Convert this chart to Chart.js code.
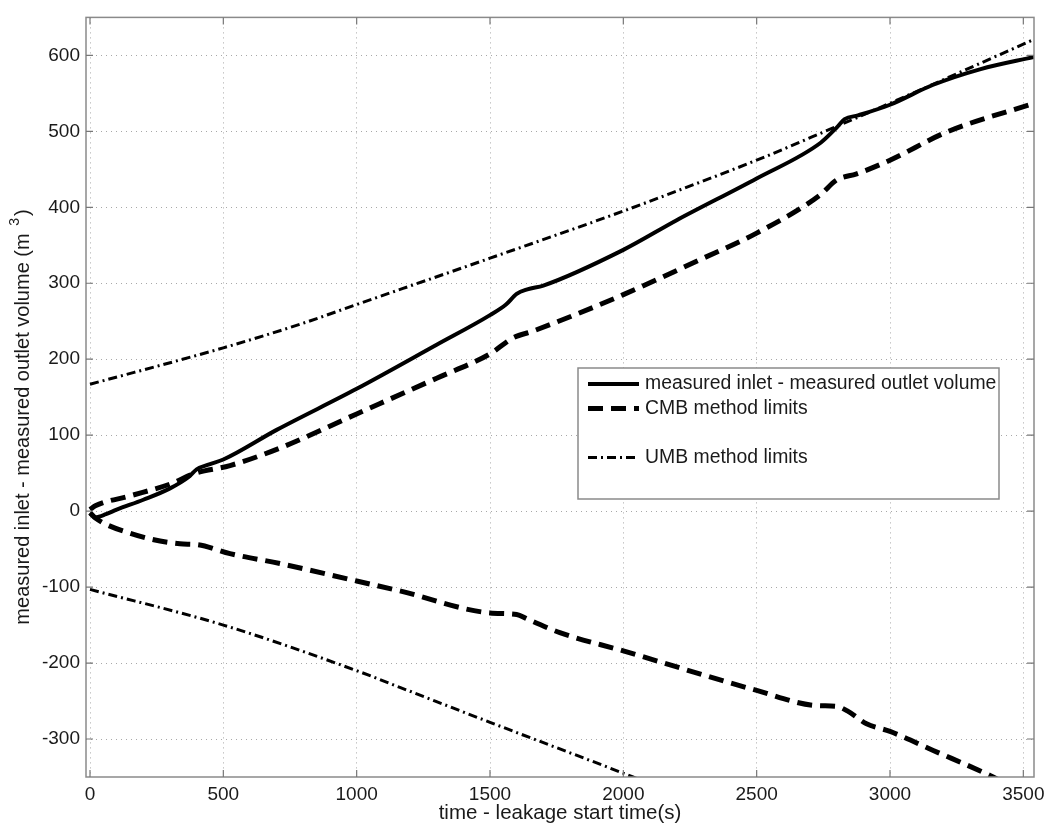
<!DOCTYPE html>
<html lang="en">
<head>
<meta charset="UTF-8">
<title>Leakage volume vs time</title>
<script src="https://cdn.jsdelivr.net/npm/chart.js"></script>
<style>
  html, body { margin: 0; padding: 0; background: #fff; }
  #wrap { width: 1044px; height: 823px; }
</style>
</head>
<body>
<div id="wrap"><canvas id="chart" width="1044" height="823"></canvas></div>
<script>
// values (time in s, volume in m3)
const measuredT = [0, 20, 60, 100, 200, 300, 370, 400, 450, 500, 700, 1000, 1300, 1500, 1560, 1600, 1640, 1700, 2000, 2200, 2500, 2740, 2800, 2830, 2880, 3000, 3160, 3340, 3540];
const measuredV = [-3, -8, -4, 2, 15, 30, 45, 55, 62, 68, 107, 161, 219, 258, 272, 286, 292, 297, 344, 383, 438, 485, 505, 516, 521, 535, 561, 582, 598];

const cmbUpperT = [0, 20, 150, 311, 386, 525, 712, 1000, 1300, 1500, 1586, 1661, 2000, 2287, 2500, 2737, 2800, 2875, 3000, 3212, 3540];
const cmbUpperV = [2, 7, 20, 37, 49, 60, 83, 128, 175, 207, 228, 237, 285, 331, 366, 416, 436, 444, 462, 499, 537];

const cmbLowerT = [0, 20, 150, 337, 400, 525, 712, 1000, 1162, 1500, 1600, 1640, 1762, 2000, 2500, 2725, 2800, 2840, 2912, 3000, 3162, 3375, 3420];
const cmbLowerV = [-2, -9, -29, -43, -44, -56, -69, -92, -105, -134, -136, -142, -160, -184, -236, -256, -257, -263, -280, -290, -315, -348, -356];

const umbUpperT = [0, 500, 787, 1000, 1500, 2000, 2212, 2500, 2750, 3000, 3540];
const umbUpperV = [167, 215, 246, 272, 333, 395, 423, 462, 499, 537, 621];

const umbLowerT = [0, 500, 1000, 1162, 1500, 2036, 2100];
const umbLowerV = [-103, -150, -210, -232, -278, -350, -359];

const xTicks = [0, 500, 1000, 1500, 2000, 2500, 3000, 3500];
const yTicks = [-300, -200, -100, 0, 100, 200, 300, 400, 500, 600];

const FONT = "'Liberation Sans', Arial, sans-serif";

function pts(t, v) { return t.map((x, i) => ({ x: x, y: v[i] })); }

function series(label, t, v, width, dash) {
  return {
    label: label,
    data: pts(t, v),
    borderColor: '#000',
    borderWidth: width,
    borderDash: dash,
    pointRadius: 0,
    fill: false,
    cubicInterpolationMode: 'monotone'
  };
}

// frame, inward tick marks, axis titles, legend box
const decor = {
  id: 'decor',
  afterDatasetsDraw(chart) {
    const ctx = chart.ctx, a = chart.chartArea;
    const xs = chart.scales.x, ys = chart.scales.y;
    ctx.save();
    ctx.strokeStyle = '#8a8a8a';
    ctx.lineWidth = 1.5;
    ctx.setLineDash([]);
    ctx.strokeRect(a.left, a.top, a.right - a.left, a.bottom - a.top);
    ctx.strokeStyle = '#777';
    ctx.lineWidth = 1.2;
    ctx.beginPath();
    xTicks.forEach(v => {
      const px = xs.getPixelForValue(v);
      ctx.moveTo(px, a.bottom); ctx.lineTo(px, a.bottom - 7);
      ctx.moveTo(px, a.top); ctx.lineTo(px, a.top + 7);
    });
    yTicks.forEach(v => {
      const py = ys.getPixelForValue(v);
      ctx.moveTo(a.left, py); ctx.lineTo(a.left + 7, py);
      ctx.moveTo(a.right, py); ctx.lineTo(a.right - 7, py);
    });
    ctx.stroke();

    // legend
    const bx = 578, by = 368, bw = 421, bh = 131;
    ctx.fillStyle = '#fff';
    ctx.fillRect(bx, by, bw, bh);
    ctx.strokeStyle = '#8a8a8a';
    ctx.lineWidth = 1.5;
    ctx.strokeRect(bx, by, bw, bh);
    ctx.font = '19.4px ' + FONT;
    ctx.textBaseline = 'middle';
    ctx.textAlign = 'left';
    chart.data.datasets.forEach((ds, i) => {
      const y = 384 + i * 24.5;
      if (!ds.label) return;
      ctx.strokeStyle = '#000';
      ctx.lineWidth = ds.borderWidth;
      ctx.setLineDash(ds.borderDash || []);
      ctx.beginPath();
      ctx.moveTo(588, y); ctx.lineTo(639, y);
      ctx.stroke();
      ctx.setLineDash([]);
      ctx.fillStyle = '#1a1a1a';
      ctx.fillText(ds.label, 645, y);
    });

    // axis titles
    ctx.fillStyle = '#1a1a1a';
    ctx.font = '20.5px ' + FONT;
    ctx.textAlign = 'center';
    ctx.textBaseline = 'middle';
    ctx.fillText('time - leakage start time(s)', (a.left + a.right) / 2, 813);

    ctx.translate(23, 417);
    ctx.rotate(-Math.PI / 2);
    const main = 'measured inlet - measured outlet volume (m ';
    const sup = '3';
    const tail = ')';
    ctx.font = '20px ' + FONT;
    const w1 = ctx.measureText(main).width;
    const w3 = ctx.measureText(tail).width;
    ctx.font = '14px ' + FONT;
    const w2 = ctx.measureText(sup).width + 4;
    const total = w1 + w2 + w3;
    let x = -total / 2;
    ctx.textAlign = 'left';
    ctx.font = '20px ' + FONT;
    ctx.fillText(main, x, 0);
    x += w1 + 2;
    ctx.font = '14px ' + FONT;
    ctx.fillText(sup, x, -8);
    x += w2 - 2;
    ctx.font = '20px ' + FONT;
    ctx.fillText(tail, x, 0);
    ctx.restore();
  }
};

new Chart(document.getElementById('chart'), {
  type: 'line',
  data: {
    datasets: [
      series('measured inlet - measured outlet volume', measuredT, measuredV, 4, []),
      series('CMB method limits', cmbUpperT, cmbUpperV, 5, [15, 8]),
      series('', cmbLowerT, cmbLowerV, 5, [15, 8]),
      series('UMB method limits', umbUpperT, umbUpperV, 3, [9, 4, 2, 4]),
      series('', umbLowerT, umbLowerV, 3, [9, 4, 2, 4])
    ]
  },
  options: {
    responsive: false,
    animation: false,
    layout: { padding: { top: 15, right: 10, left: 0, bottom: 0 } },
    plugins: { legend: { display: false }, tooltip: { enabled: false } },
    scales: {
      x: {
        type: 'linear',
        min: -15,
        max: 3540,
        afterBuildTicks: s => { s.ticks = xTicks.map(v => ({ value: v })); },
        afterFit: s => { s.height = 46; s.paddingLeft = 0; s.paddingRight = 0; },
        grid: { color: '#a8a8a8', lineWidth: 1, drawTicks: false },
        border: { display: false, dash: [1, 4] },
        ticks: {
          font: { size: 19, family: FONT }, color: '#1a1a1a', padding: 6, maxRotation: 0,
          callback: v => String(v)
        }
      },
      y: {
        type: 'linear',
        min: -350,
        max: 650,
        afterBuildTicks: s => { s.ticks = yTicks.map(v => ({ value: v })); },
        afterFit: s => { s.width = 86; },
        grid: { color: '#a8a8a8', lineWidth: 1, drawTicks: false },
        border: { display: false, dash: [1, 4] },
        ticks: {
          font: { size: 19, family: FONT }, color: '#1a1a1a', padding: 6,
          callback: v => String(v)
        }
      }
    }
  },
  plugins: [decor]
});
</script>
</body>
</html>
